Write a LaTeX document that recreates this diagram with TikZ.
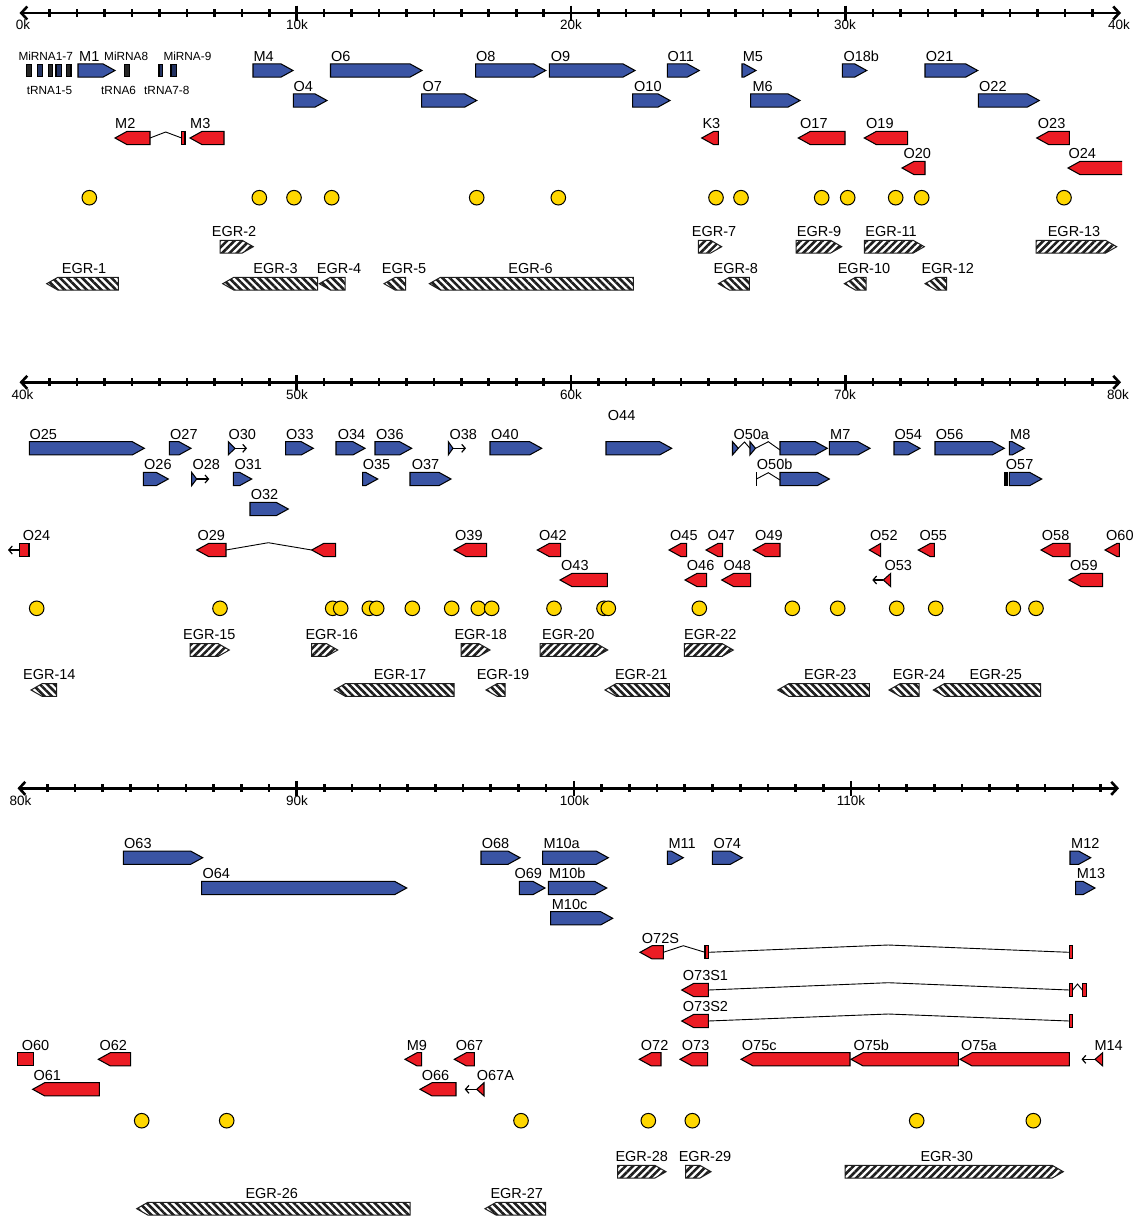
\documentclass[tikz,border=0pt]{standalone}
\usepackage{fontspec}
\setmainfont{Liberation Sans}
\usetikzlibrary{arrows.meta,patterns.meta}
\definecolor{gblue}{HTML}{3A54A4}
\definecolor{gred}{HTML}{EC1C24}
\definecolor{gyel}{HTML}{FFD700}
\definecolor{hatch}{HTML}{1E1E1E}
\tikzset{
  gl/.style={draw=black,line width=1.05pt,line join=miter},
  lab/.style={anchor=base west,inner sep=0pt,font=\fontsize{14.5}{15}\selectfont},
  slab/.style={anchor=base west,inner sep=0pt,font=\fontsize{11.8}{12}\selectfont},
  elab/.style={anchor=base,inner sep=0pt,font=\fontsize{14.5}{15}\selectfont},
  rlab/.style={anchor=base,inner sep=0pt,font=\fontsize{13.5}{14}\selectfont},
  egrbox/.style={draw=hatch,line width=1pt,preaction={fill=white},pattern color=hatch},
  ruler/.style={line width=2.6pt,{Straight Barb[length=6pt,width=13pt]}-{Straight Barb[length=6pt,width=13pt]}},
  tick/.style={line width=2.6pt},
  intron/.style={draw=black,line width=0.9pt},
  smallarr/.style={line width=1.2pt,-{Straight Barb[length=3.5pt,width=8pt]}},
  site/.style={draw=black,line width=1pt,fill=gyel},
  mibar/.style={draw=black,line width=1.4pt,fill=gblue!60!black},
}
\newcommand\gb[3]{\pgfmathsetmacro\hx{max(#1,#2-12)}\filldraw[gl,fill=gblue] (#1,#3-6.6) -- (\hx,#3-6.6) -- (#2,#3) -- (\hx,#3+6.6) -- (#1,#3+6.6) -- cycle;}
\newcommand\gr[3]{\pgfmathsetmacro\hx{min(#2,#1+12)}\filldraw[gl,fill=gred] (#2,#3-6.6) -- (\hx,#3-6.6) -- (#1,#3) -- (\hx,#3+6.6) -- (#2,#3+6.6) -- cycle;}
\newcommand\GB[5]{\gb{#1}{#2}{#3}\node[lab] (L#4) at (#5,#3-9.3) {#4};}
\newcommand\GR[5]{\gr{#1}{#2}{#3}\node[lab] (L#4) at (#5,#3-9.3) {#4};}
\newcommand\ef[3]{\pgfmathsetmacro\hx{max(#1,#2-11)}\path[egrbox,pattern={Lines[angle=45,distance=5.2pt,line width=2.6pt]}] (#1,#3-6.3) -- (\hx,#3-6.3) -- (#2,#3) -- (\hx,#3+6.3) -- (#1,#3+6.3) -- cycle;}
\newcommand\er[3]{\pgfmathsetmacro\hx{min(#2,#1+11)}\path[egrbox,pattern={Lines[angle=-45,distance=5.2pt,line width=2.6pt]}] (#2,#3-6.3) -- (\hx,#3-6.3) -- (#1,#3) -- (\hx,#3+6.3) -- (#2,#3+6.3) -- cycle;}
\newcommand\EF[5]{\ef{#1}{#2}{#3}\node[elab] (L#4) at (#5,#3-10.5) {#4};}
\newcommand\ER[5]{\er{#1}{#2}{#3}\node[elab] (L#4) at (#5,#3-10.5) {#4};}
\newcommand\rbar[3]{\filldraw[gl,fill=gred] (#1,#3-6.6) rectangle (#2,#3+6.6);}
\begin{document}
\begin{tikzpicture}[x=1pt,y=-1pt]
\useasboundingbox (0,0) rectangle (1141,1218);
% ================= rulers =================
\draw[ruler] (19.5,13) -- (1121,13);
\foreach \k in {1,...,39}{\pgfmathsetmacro\tx{22.3+27.44*\k}\draw[tick] (\tx,9) -- (\tx,17);}
\foreach \k in {10,20,30}{\pgfmathsetmacro\tx{22.3+27.44*\k}\draw[tick] (\tx,5.5) -- (\tx,20.5);}
\node[rlab] (r0) at (23,29.3) {0k};
\node[rlab] (r10) at (297,29.3) {10k};
\node[rlab] (r20) at (571,29.3) {20k};
\node[rlab] (r30) at (845,29.3) {30k};
\node[rlab] (r40) at (1119,29.3) {40k};
\draw[ruler] (19.5,382.3) -- (1121,382.3);
\foreach \k in {1,...,39}{\pgfmathsetmacro\tx{22.3+27.44*\k}\draw[tick] (\tx,378.3) -- (\tx,386.3);}
\foreach \k in {10,20,30}{\pgfmathsetmacro\tx{22.3+27.44*\k}\draw[tick] (\tx,374.8) -- (\tx,389.8);}
\node[rlab] (r40b) at (22.5,399.3) {40k};
\node[rlab] (r50) at (297,399.3) {50k};
\node[rlab] (r60) at (571,399.3) {60k};
\node[rlab] (r70) at (845,399.3) {70k};
\node[rlab] (r80) at (1118,399.3) {80k};
\draw[ruler] (17.5,788.3) -- (1119,788.3);
\foreach \k in {1,...,39}{\pgfmathsetmacro\tx{19.5+27.72*\k}\draw[tick] (\tx,784.3) -- (\tx,792.3);}
\foreach \k in {10,20,30}{\pgfmathsetmacro\tx{19.5+27.72*\k}\draw[tick] (\tx,780.8) -- (\tx,795.8);}
\node[rlab] (r80b) at (20.5,805) {80k};
\node[rlab] (r90) at (297,805) {90k};
\node[rlab] (r100) at (574.5,805) {100k};
\node[rlab] (r110) at (851,805) {110k};
% ================= panel 1 =================
\foreach \a/\b in {26.7/31.7,48.3/52.7,66.7/71,124.3/129.3}{\filldraw[draw=black,line width=1.2pt,fill=black!85] (\a,64.5) rectangle (\b,76.5);}
\foreach \a/\b in {37.3/42.7,56/61.7,159/162.3,171/176.7}{\filldraw[mibar] (\a,64.5) rectangle (\b,76.5);}
\node[slab] (LMiRNA17) at (18.3,60) {MiRNA1-7};
\node[slab] (LMiRNA8) at (104,60) {MiRNA8};
\node[slab] (LMiRNA9) at (163.3,60) {MiRNA-9};
\node[slab] (LtRNA15) at (26.7,94.3) {tRNA1-5};
\node[slab] (LtRNA6) at (101,94.3) {tRNA6};
\node[slab] (LtRNA78) at (144,94.3) {tRNA7-8};
\GB{78}{115}{70.5}{M1}{79}
\GB{253}{293}{70.5}{M4}{253.3}
\GB{330.5}{422}{70.5}{O6}{331}
\GB{475.7}{545.7}{70.5}{O8}{476}
\GB{549.3}{635}{70.5}{O9}{550.7}
\GB{667.3}{699.3}{70.5}{O11}{667.3}
\GB{742}{756}{70.5}{M5}{742.7}
\GB{842.3}{866.7}{70.5}{O18b}{843.3}
\GB{925}{977.7}{70.5}{O21}{925.7}
\GB{293.3}{327}{100.5}{O4}{293.3}
\GB{421.7}{476.7}{100.5}{O7}{422.3}
\GB{632.7}{670}{100.5}{O10}{634}
\GB{750.7}{800}{100.5}{M6}{752.3}
\GB{978.3}{1039.3}{100.5}{O22}{979}
\GR{115}{150}{138}{M2}{115}
\draw[intron] (150,138) -- (165.7,132) -- (181.7,138);
\rbar{181.7}{185}{138}
\GR{190}{224}{138}{M3}{190}
\GR{701.7}{718.3}{138}{K3}{702.3}
\GR{798.3}{845}{138}{O17}{800}
\GR{864.3}{907.7}{138}{O19}{866}
\GR{1036.7}{1069.3}{138}{O23}{1037.7}
\GR{902}{925}{168}{O20}{903.3}
\fill[gred] (1122,161.4) -- (1080,161.4) -- (1068,168) -- (1080,174.6) -- (1122,174.6) -- cycle;
\draw[gl] (1122,161.4) -- (1080,161.4) -- (1068,168) -- (1080,174.6) -- (1122,174.6);
\node[lab] (LO24a) at (1068.3,158.7) {O24};
\foreach \x in {89.3,259.3,294,331.7,476.7,558.3,716,741,821.7,847.7,895.7,921.7,1064}{\draw[site] (\x,197.7) circle (7.3);}
\EF{220}{253.3}{246.7}{EGR-2}{234}
\EF{698.3}{721.7}{246.7}{EGR-7}{714}
\EF{796}{841.7}{246.7}{EGR-9}{819}
\EF{864.3}{924.3}{246.7}{EGR-11}{891}
\EF{1036}{1116.7}{246.7}{EGR-13}{1074}
\ER{46.7}{118.3}{283.7}{EGR-1}{84}
\ER{222.7}{317.7}{283.7}{EGR-3}{275.5}
\ER{319.3}{345}{283.7}{EGR-4}{339}
\ER{384}{405.7}{283.7}{EGR-5}{404}
\ER{429.3}{633.3}{283.7}{EGR-6}{530.5}
\ER{718.3}{749.3}{283.7}{EGR-8}{735.8}
\ER{844.3}{866}{283.7}{EGR-10}{864}
\ER{925}{946.7}{283.7}{EGR-12}{947.7}
% ================= panel 2 =================
\GB{29.3}{144.3}{448.3}{O25}{29.3}
\GB{169.3}{191}{448.3}{O27}{170}
\GB{228.3}{235}{448.3}{O30}{228.3}
\draw[smallarr] (235,448.3) -- (247,448.3);
\GB{285.7}{313.3}{448.3}{O33}{286}
\GB{336}{365}{448.3}{O34}{337.7}
\GB{375}{411.7}{448.3}{O36}{376}
\GB{448.3}{453}{448.3}{O38}{449.3}
\draw[smallarr] (453,448.3) -- (466,448.3);
\GB{490}{541.7}{448.3}{O40}{491}
\gb{606}{671.7}{448.3}
\node[lab] (LO44) at (607.7,420.7) {O44};
\gb{732.5}{738.3}{448.3}
\draw[intron] (738.3,448.3) -- (744.5,442) -- (750,448.3);
\gb{750}{755.5}{448.3}
\draw[intron] (755.5,448.3) -- (768.3,441.7) -- (780,450);
\gb{780}{827.3}{448.3}
\node[lab] (LO50a) at (733.3,439) {O50a};
\GB{829.3}{870}{448.3}{M7}{830}
\GB{894}{920}{448.3}{O54}{894.3}
\GB{935}{1004.3}{448.3}{O56}{935.7}
\GB{1009.3}{1024.3}{448.3}{M8}{1010}
\GB{143.3}{168.3}{479}{O26}{144}
\GB{191.7}{196.7}{479}{O28}{192.3}
\draw[smallarr] (196.7,479) -- (209.3,479);
\GB{233.3}{251.7}{479}{O31}{234.3}
\GB{362.7}{377.7}{479}{O35}{362.7}
\GB{410}{451}{479}{O37}{411.7}
\draw[line width=1.8pt] (756.5,472.4) -- (756.5,485.6);
\draw[intron] (756.5,479) -- (768.3,472.7) -- (780,480);
\GB{780}{829.3}{479}{O50b}{756.7}
\fill[black] (1004.3,472.4) rectangle (1007.6,485.6);
\GB{1009.3}{1041.7}{479}{O57}{1005.7}
\GB{250}{288.3}{509}{O32}{250.7}
\rbar{19.3}{29}{550}
\draw[smallarr] (19.3,550) -- (8,550);
\node[lab] (LO24b) at (22.7,540.7) {O24};
\GR{196.7}{226}{550}{O29}{197.3}
\draw[intron] (226,550) -- (268.3,542.7) -- (311.7,550);
\gr{311.7}{335.7}{550}
\GR{454}{486.7}{550}{O39}{455}
\GR{537.3}{560.7}{550}{O42}{539}
\GR{669}{686.7}{550}{O45}{670}
\GR{706}{722.7}{550}{O47}{707.3}
\GR{753.3}{780}{550}{O49}{755}
\GR{869.3}{880.7}{550}{O52}{870}
\GR{918.3}{934.3}{550}{O55}{919.3}
\GR{1041}{1070}{550}{O58}{1041.7}
\GR{1105}{1119.3}{550}{O60}{1106}
\GR{560}{607.3}{580}{O43}{561}
\GR{685}{706.7}{580}{O46}{686.7}
\GR{721.7}{750.7}{580}{O48}{723.3}
\draw[smallarr] (883.3,580) -- (872.3,580);
\GR{883.3}{890.7}{580}{O53}{884.3}
\GR{1069}{1102.7}{580}{O59}{1070}
\foreach \x in {36.7,220,332.7,340.7,369.3,376.7,412.3,451.7,478.3,491.7,554,604,608.3,699.3,792.3,837.7,896.7,935.7,1013.3,1036}{\draw[site] (\x,608.3) circle (7.3);}
\EF{190}{229.3}{650}{EGR-15}{209.3}
\EF{311.7}{337.7}{650}{EGR-16}{331.7}
\EF{461}{490}{650}{EGR-18}{480.7}
\EF{540}{607.7}{650}{EGR-20}{568.3}
\EF{684.3}{733.3}{650}{EGR-22}{710.3}
\ER{31}{56.7}{690}{EGR-14}{49.3}
\ER{334.3}{454}{690}{EGR-17}{400}
\ER{486}{505}{690}{EGR-19}{503}
\ER{605}{669.3}{690}{EGR-21}{641.2}
\ER{777.7}{869.3}{690}{EGR-23}{830.3}
\ER{889}{919}{690}{EGR-24}{919}
\ER{933.3}{1040.7}{690}{EGR-25}{995.8}
% ================= panel 3 =================
\GB{123.3}{202.7}{857.7}{O63}{124}
\GB{481}{520}{857.7}{O68}{481.7}
\GB{542.7}{608.3}{857.7}{M10a}{543.3}
\GB{667.3}{683.3}{857.7}{M11}{668.3}
\GB{712.3}{742.3}{857.7}{O74}{713.3}
\GB{1070}{1090.7}{857.7}{M12}{1071}
\GB{201.7}{406.7}{888}{O64}{202.3}
\GB{519.3}{545}{888}{O69}{514.3}
\GB{548.3}{606.7}{888}{M10b}{549}
\GB{1075.7}{1095}{888}{M13}{1076.7}
\GB{550.7}{612.7}{918.3}{M10c}{551.7}
% O72S
\GR{640}{663.3}{952.3}{O72S}{641.7}
\draw[intron] (663.3,952.3) -- (683.3,945.7) -- (705,952.3);
\rbar{705}{708.3}{952.3}
\draw[intron] (708.3,952.3) -- (888.3,945) -- (1069.3,952.3);
\rbar{1069.3}{1072.7}{952.3}
% O73S1
\GR{681.7}{708.3}{990}{O73S1}{682.7}
\draw[intron] (708.3,990) -- (888.3,982.7) -- (1069.3,990);
\rbar{1069.3}{1072.7}{990}
\draw[intron] (1072.7,990) -- (1077.5,984) -- (1082.3,990);
\rbar{1082.3}{1086.7}{990}
% O73S2
\GR{681.7}{708.3}{1021}{O73S2}{682.7}
\draw[intron] (708.3,1021) -- (888.3,1014) -- (1069.3,1021);
\rbar{1069.3}{1072.7}{1021}
\rbar{17.3}{33.3}{1059.3}
\node[lab] (LO60b) at (21.7,1050) {O60};
\GR{98.3}{130.7}{1059.3}{O62}{99.3}
\GR{405}{421.7}{1059.3}{M9}{406.7}
\GR{454.3}{474.3}{1059.3}{O67}{455.7}
\GR{639.3}{661}{1059.3}{O72}{640.7}
\GR{680}{707.7}{1059.3}{O73}{681.7}
\GR{741}{850}{1059.3}{O75c}{741.7}
\GR{851}{958.3}{1059.3}{O75b}{853.3}
\GR{960}{1069.3}{1059.3}{O75a}{961}
\draw[smallarr] (1095,1059.3) -- (1081.5,1059.3);
\GR{1095}{1102.7}{1059.3}{M14}{1094.3}
\GR{32.7}{99.3}{1089.3}{O61}{33.3}
\GR{420}{456}{1089.3}{O66}{421.7}
\draw[smallarr] (476.7,1089.3) -- (464.7,1089.3);
\GR{476.7}{484}{1089.3}{O67A}{476.7}
\foreach \x in {141.7,226.7,521,648.3,692.3,916.7,1033.3}{\draw[site] (\x,1120.7) circle (7.3);}
\EF{617.7}{666}{1171.7}{EGR-28}{641.7}
\EF{685.7}{711}{1171.7}{EGR-29}{705}
\EF{845}{1063.3}{1171.7}{EGR-30}{946.7}
\ER{136.7}{410}{1208.7}{EGR-26}{271.7}
\ER{485}{545.7}{1208.7}{EGR-27}{516.7}
\end{tikzpicture}
\end{document}
